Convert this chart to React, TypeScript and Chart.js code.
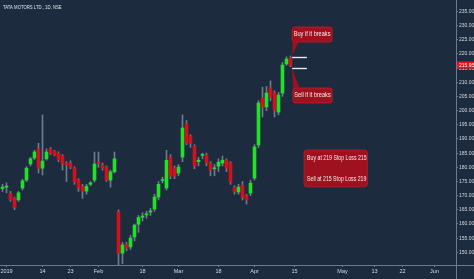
import React, { useEffect, useRef } from "react";
import { Chart, registerables } from "chart.js";

Chart.register(...registerables);

// ---------- data ----------
const chartTitle = "TATA MOTORS LTD., 1D, NSE";

// trading-bar index of each daily candle (0 = first bar of 2019)
const barIndex = [
  -1, 0, 1, 2, 3, 4, 5, 6, 7, 8, 9, 10, 11, 12, 13, 14, 15, 16, 17, 18, 19, 20,
  21, 22, 23, 24, 25, 26, 27, 28, 29, 30, 31, 32, 33, 34, 35, 36, 37, 38, 39, 40,
  41, 42, 43, 44, 45, 46, 47, 48, 49, 50, 51, 52, 53, 54, 55, 56, 57, 58, 59, 60,
  61, 62, 63, 64, 65, 66, 67, 68, 69, 70, 71,
];
const openPrices = [
  172.5, 173, 170.8, 169.2, 168.5, 172.7, 175.5, 181.2, 183.3, 186.5, 179.7, 183, 186.5, 185.7, 185, 184,
  181.5, 181.5, 179.7, 175.5, 173.3, 171.6, 174, 175.5, 181.8, 180.8, 180.1, 175.5, 178.4, 164.2, 149.7,
  152.9, 151.9, 155.4, 159.9, 162.4, 163.2, 164.2, 165.3, 169.5, 175.3, 172.7, 183.6, 179.7, 178, 183.6,
  195.3, 191, 187.5, 182, 184.2, 184.3, 181.5, 179.5, 180.4, 181.5, 182.5, 181.5, 173, 171.3, 173.7, 170,
  170.9, 176.2, 187.9, 204.5, 201.3, 208, 206.2, 199.5, 206.2, 216.5, 218.6,
];
const highPrices = [
  174, 174.5, 171.5, 169.5, 171.5, 175.8, 180.2, 183.5, 186, 188.5, 198.5, 186.5, 187, 186, 185.5, 184.5,
  182, 182.3, 180.2, 176, 174, 174, 175, 185.4, 185.4, 181.5, 180.5, 179, 185.4, 165, 153.5,
  153.5, 156, 160, 163, 164, 164.5, 165.5, 170.5, 175, 176.5, 186, 184.5, 180.5, 181, 198.5,
  196.5, 191.5, 188, 183.5, 185, 185, 182, 181, 183, 184, 183, 182, 173.5, 174, 175, 170.5,
  175.5, 188, 203.5, 208.3, 208.5, 210.5, 207, 206.5, 217, 219, 219.3,
];
const lowPrices = [
  171.5, 171, 168, 165, 168, 172, 175, 180.5, 182.8, 178, 177.3, 182.5, 184.5, 184, 182, 179,
  175, 179.5, 174, 171.5, 169, 170.5, 173.5, 174.8, 180, 179, 175, 173, 178, 145, 146,
  150.5, 151, 154, 157, 161, 162, 163, 164.5, 168.5, 174.5, 172, 176, 176, 177, 182,
  188, 187, 179.5, 180.5, 183, 180.5, 177, 177, 178.5, 180.5, 178.5, 174, 170.5, 170.5, 168.5, 167,
  170, 175.5, 187, 197.8, 200, 203.5, 197.8, 198.5, 205, 216, 215.5,
];
const closePrices = [
  173, 173.3, 168.6, 165.8, 171, 175.2, 179.7, 183, 185.4, 179.7, 182.2, 185.4, 185, 184.3, 182.6, 181.2,
  180.8, 180.1, 174.8, 172.7, 171.6, 173.3, 174.5, 181.2, 181.4, 179.7, 175.5, 178.4, 183, 149.7, 152.6,
  151.5, 155, 159.6, 162.3, 162.8, 163.6, 164.6, 169.5, 174, 175.6, 182.5, 176.9, 176.9, 180.1, 193.9,
  188.6, 188.6, 180.4, 182.5, 184.5, 181.5, 179, 179.8, 181.8, 182.5, 179.7, 174.8, 171.3, 173, 169.5, 168.5,
  174.4, 187.2, 202.7, 201.3, 206.2, 204.8, 200.2, 205.5, 216.1, 218.2, 215.95,
];

const yTickValues = [150, 155, 160, 165, 170, 175, 180, 185, 190, 195, 200, 205, 210, 215, 220, 225, 230, 235];
const xTickBars = [0, 9, 16, 23, 34, 43, 53, 62, 72, 84, 92, 99, 107];
const xTickLabels = ["2019", "14", "23", "Feb", "18", "Mar", "18", "Apr", "15", "May", "13", "22", "Jun"];

const lastPrice = 215.95;
const breakLevels = [219, 215];
const breakLevelFromBar = 71.4;
const breakLevelToBar = 75.1;

// callouts, anchored in bar / price units
const calloutTexts = ["Buy if it breaks", "Sell if it breaks"];
const calloutLeftBar = [71.4, 71.6];
const calloutRightBar = [81.4, 81.4];
const calloutTopPrice = [229.5, 208.0];
const calloutBottomPrice = [224.2, 202.7];
const calloutTipBar = [71.45, 71.3];
const calloutTipPrice = [219.6, 215.2];

const planTexts = ["Buy at 219 Stop Loss 215", "Sell at 215 Stop Loss 219"];
const planBoxBars = [74.4, 90.2];
const planBoxPrices = [186.1, 173.1];
const planTextPrices = [183.3, 175.9];

// ---------- styles ----------
const BG = "#1d2b3e";
const UP = "#22e02a";
const DOWN = "#d0121c";
const WICK = "#6e7b8b";
const AXIS = "#6a7b8f";
const LABEL = "#d4dae2";
const NOTE_FILL = "#a0111f";
const NOTE_STROKE = "#c21d2a";
const NOTE_TEXT = "#f6e8e8";
const FONT = "'Liberation Sans', Arial, sans-serif";

function roundRect(ctx: CanvasRenderingContext2D, x: number, y: number, w: number, h: number, r: number) {
  ctx.beginPath();
  ctx.moveTo(x + r, y);
  ctx.lineTo(x + w - r, y);
  ctx.arcTo(x + w, y, x + w, y + r, r);
  ctx.lineTo(x + w, y + h - r);
  ctx.arcTo(x + w, y + h, x + w - r, y + h, r);
  ctx.lineTo(x + r, y + h);
  ctx.arcTo(x, y + h, x, y + h - r, r);
  ctx.lineTo(x, y + r);
  ctx.arcTo(x, y, x + r, y, r);
  ctx.closePath();
}

function drawText(
  ctx: CanvasRenderingContext2D,
  text: string,
  x: number,
  y: number,
  size: number,
  sx: number,
  color: string,
  align: CanvasTextAlign
) {
  ctx.save();
  ctx.translate(x, y);
  ctx.scale(sx, 1);
  ctx.font = `${size}px ${FONT}`;
  ctx.fillStyle = color;
  ctx.textAlign = align;
  ctx.textBaseline = "middle";
  ctx.fillText(text, 0, 0);
  ctx.restore();
}

const overlayPlugin = {
  id: "overlay",
  beforeDraw(chart: any) {
    const ctx = chart.ctx as CanvasRenderingContext2D;
    ctx.save();
    ctx.fillStyle = BG;
    ctx.fillRect(0, 0, chart.width, chart.height);
    ctx.restore();
  },
  afterDatasetsDraw(chart: any) {
    const ctx = chart.ctx as CanvasRenderingContext2D;
    const xs = chart.scales.x;
    const ys = chart.scales.y;
    ctx.save();

    // break level lines
    ctx.strokeStyle = "#e6e9ee";
    ctx.lineWidth = 1.4;
    breakLevels.forEach((lv) => {
      const y = Math.round(ys.getPixelForValue(lv)) + 0.5;
      ctx.beginPath();
      ctx.moveTo(xs.getPixelForValue(breakLevelFromBar), y);
      ctx.lineTo(xs.getPixelForValue(breakLevelToBar), y);
      ctx.stroke();
    });

    // callouts
    calloutTexts.forEach((t, k) => {
      const l = xs.getPixelForValue(calloutLeftBar[k]);
      const r = xs.getPixelForValue(calloutRightBar[k]);
      const top = ys.getPixelForValue(calloutTopPrice[k]);
      const bot = ys.getPixelForValue(calloutBottomPrice[k]);
      const tx = xs.getPixelForValue(calloutTipBar[k]);
      const ty = ys.getPixelForValue(calloutTipPrice[k]);
      const baseY = ty > bot ? bot : top;
      ctx.fillStyle = NOTE_FILL;
      ctx.strokeStyle = NOTE_STROKE;
      ctx.lineWidth = 0.8;
      roundRect(ctx, l, top, r - l, bot - top, 2.5);
      ctx.fill();
      ctx.stroke();
      ctx.beginPath();
      ctx.moveTo(l + 0.5, baseY);
      ctx.lineTo(l + 6.5, baseY);
      ctx.lineTo(tx, ty);
      ctx.closePath();
      ctx.fill();
      drawText(ctx, t, (l + r) / 2, (top + bot) / 2, 6.5, 0.86, NOTE_TEXT, "center");
    });

    // plan box
    const pl = xs.getPixelForValue(planBoxBars[0]);
    const pr = xs.getPixelForValue(planBoxBars[1]);
    const pt = ys.getPixelForValue(planBoxPrices[0]);
    const pb = ys.getPixelForValue(planBoxPrices[1]);
    ctx.fillStyle = NOTE_FILL;
    ctx.strokeStyle = NOTE_STROKE;
    ctx.lineWidth = 0.8;
    roundRect(ctx, pl, pt, pr - pl, pb - pt, 3);
    ctx.fill();
    ctx.stroke();
    planTexts.forEach((t, k) => {
      drawText(ctx, t, pl + 3, ys.getPixelForValue(planTextPrices[k]), 6.5, 0.8, NOTE_TEXT, "left");
    });
    ctx.restore();
  },
  afterDraw(chart: any) {
    const ctx = chart.ctx as CanvasRenderingContext2D;
    const area = chart.chartArea;
    const ys = chart.scales.y;
    ctx.save();
    ctx.strokeStyle = AXIS;
    ctx.lineWidth = 1;
    ctx.beginPath();
    ctx.moveTo(0, area.bottom + 0.5);
    ctx.lineTo(chart.width, area.bottom + 0.5);
    ctx.moveTo(area.right + 0.5, 0);
    ctx.lineTo(area.right + 0.5, chart.height);
    ctx.stroke();

    // last price label
    const py = ys.getPixelForValue(lastPrice);
    ctx.fillStyle = "#e8101c";
    ctx.fillRect(area.right + 1, Math.round(py) - 3.5, chart.width - area.right - 1, 7);
    drawText(ctx, lastPrice.toFixed(2), area.right + 3, py, 5, 1, "#ffffff", "left");

    // title
    drawText(ctx, chartTitle, 3, 7.5, 5.6, 0.76, "#e2e6ec", "left");
    ctx.restore();
  },
};

export default function App() {
  const ref = useRef<HTMLCanvasElement | null>(null);

  useEffect(() => {
    if (!ref.current) return;
    const bodies = barIndex.map((b, k) => {
      const o = openPrices[k];
      const c = closePrices[k];
      const lo = Math.min(o, c);
      const hi = Math.max(o, c);
      return { x: b, y: [lo, Math.max(hi, lo + 0.35)] };
    });
    const bodyColors = barIndex.map((_, k) => (closePrices[k] >= openPrices[k] ? UP : DOWN));
    const wicks = barIndex.map((b, k) => ({ x: b, y: [lowPrices[k], highPrices[k]] }));

    const chart = new Chart(ref.current, {
      type: "bar",
      data: {
        datasets: [
          {
            label: "wick",
            data: wicks as any,
            backgroundColor: WICK,
            barThickness: 1,
            grouped: false,
            order: 2,
            borderWidth: 0,
          } as any,
          {
            label: "body",
            data: bodies as any,
            backgroundColor: bodyColors,
            barThickness: 3,
            grouped: false,
            order: 1,
            borderWidth: 0,
          } as any,
        ],
      },
      options: {
        animation: false,
        responsive: false,
        devicePixelRatio: 1,
        layout: { padding: 0 },
        plugins: { legend: { display: false }, tooltip: { enabled: false }, title: { display: false } },
        scales: {
          x: {
            type: "linear",
            position: "bottom",
            offset: false,
            min: -1.625,
            max: 112.375,
            afterFit: (s: any) => {
              s.height = 14;
              s.paddingLeft = 0;
              s.paddingRight = 0;
              s.paddingTop = 0;
              s.paddingBottom = 0;
            },
            afterBuildTicks: (s: any) => {
              s.ticks = xTickBars.map((v) => ({ value: v }));
            },
            ticks: {
              autoSkip: false,
              maxRotation: 0,
              padding: 1,
              color: LABEL,
              font: { size: 5.5, family: FONT },
              callback: (v: any) => {
                const i = xTickBars.indexOf(Number(v));
                return i >= 0 ? xTickLabels[i] : "";
              },
            },
            grid: { offset: false, drawOnChartArea: false, drawTicks: true, tickLength: 2, color: AXIS },
            border: { display: false },
          },
          y: {
            type: "linear",
            position: "right",
            min: 145.52,
            max: 239.06,
            afterFit: (s: any) => {
              s.width = 18;
              s.paddingLeft = 0;
              s.paddingRight = 0;
              s.paddingTop = 0;
              s.paddingBottom = 0;
            },
            afterBuildTicks: (s: any) => {
              s.ticks = yTickValues.map((v) => ({ value: v }));
            },
            ticks: {
              padding: 1,
              color: LABEL,
              font: { size: 5, family: FONT },
              callback: (v: any) => Number(v).toFixed(2),
            },
            grid: { drawOnChartArea: false, drawTicks: true, tickLength: 2, color: AXIS },
            border: { display: false },
          },
        },
      },
      plugins: [overlayPlugin],
    });
    return () => chart.destroy();
  }, []);

  return (
    <div style={{ position: "fixed", left: 0, top: 0, width: 474, height: 279, background: BG }}>
      <canvas ref={ref} width={474} height={279} style={{ width: 474, height: 279, display: "block" }} />
    </div>
  );
}
